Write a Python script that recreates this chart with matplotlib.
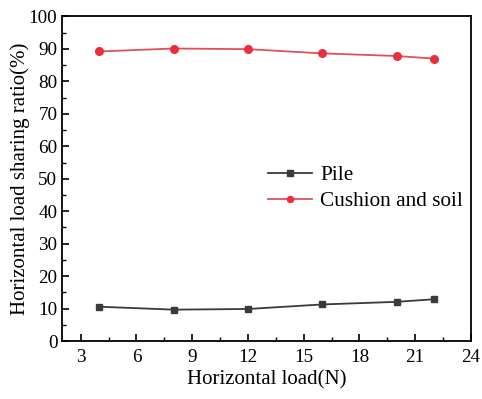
import matplotlib
matplotlib.use("Agg")
import matplotlib.pyplot as plt
from matplotlib.ticker import MultipleLocator

load = [4, 8, 12, 16, 20, 22]
pile = [10.6, 9.7, 9.9, 11.3, 12.1, 12.9]
cushion = [89.2, 90.1, 89.9, 88.6, 87.8, 87.0]

plt.rcParams['font.family'] = ['Liberation Serif', 'DejaVu Serif']

fig = plt.figure(figsize=(4.82, 3.99), dpi=100)
ax = fig.add_axes([0.129, 0.145, 0.848, 0.814])

ax.plot(load, pile, color='#3a3a3a', marker='s', markersize=5, linewidth=1.3,
        markerfacecolor='#3a3a3a', label='Pile')
ax.plot(load, cushion, color='#e05058', marker='o', markersize=5.5, linewidth=1.3,
        markerfacecolor='#e8303c', markeredgecolor='#e8303c', label='Cushion and soil')

ax.set_xlim(2, 24)
ax.set_ylim(0, 100)
ax.xaxis.set_major_locator(MultipleLocator(3))
ax.xaxis.set_minor_locator(MultipleLocator(1.5))
ax.yaxis.set_major_locator(MultipleLocator(10))
ax.yaxis.set_minor_locator(MultipleLocator(5))
ax.tick_params(which='both', direction='in', top=False, right=False, labelsize=13.8)
ax.tick_params(axis='x', which='major', pad=6)
ax.tick_params(which='major', length=5, width=1.2)
ax.tick_params(which='minor', length=3, width=1.0)
for s in ax.spines.values():
    s.set_linewidth(1.3)

ax.set_xlabel('Horizontal load(N)', fontsize=15, labelpad=3)
ax.set_ylabel('Horizontal load sharing ratio(%)', fontsize=15, labelpad=-1)

ax.legend(loc='center right', bbox_to_anchor=(1.017, 0.471), frameon=False, fontsize=15.3,
          handlelength=2.07, handletextpad=0.4, labelspacing=0.3, borderaxespad=0.3,
          markerscale=0.8)

fig.savefig('out.png', dpi=100)
